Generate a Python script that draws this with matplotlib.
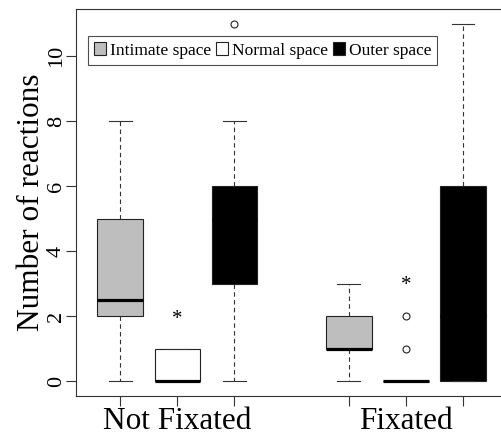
import matplotlib
matplotlib.use("Agg")
import matplotlib.pyplot as plt
import matplotlib.transforms as mtransforms
from matplotlib.patches import Patch

plt.rcParams['font.family'] = ['Liberation Serif', 'DejaVu Serif']

# Data
groups = ["Not Fixated", "Fixated"]
spaces = ["Intimate space", "Normal space", "Outer space"]
positions = [1, 2, 3, 5, 6, 7]
q1 = [2, 0, 3, 1, 0, 0]
med = [2.5, 0, 5, 1, 0, 2]
q3 = [5, 1, 6, 2, 0, 6]
whislo = [0, 0, 0, 0, 0, 0]
whishi = [8, 1, 8, 3, 0, 11]
fliers = [[], [], [11], [], [1, 2], []]
star_x = [2, 6]
star_y = [2.05, 3.1]
colors = ["#BEBEBE", "white", "black"]

stats = [dict(q1=a, med=m, q3=b, whislo=lo, whishi=hi, fliers=f)
         for a, m, b, lo, hi, f in zip(q1, med, q3, whislo, whishi, fliers)]

fig = plt.figure(figsize=(5.02, 4.37), dpi=100)
ax = fig.add_axes([0.1508, 0.0945, 0.8602, 0.8842])

bp = ax.bxp(stats, positions=positions, widths=0.8, patch_artist=True,
            boxprops=dict(edgecolor="#222222", linewidth=0.8),
            medianprops=dict(color="black", linewidth=2.3, solid_capstyle="butt"),
            whiskerprops=dict(color="#333333", linewidth=0.8, linestyle=(0, (4, 3))),
            capprops=dict(color="#333333", linewidth=0.8),
            capwidths=0.4,
            flierprops=dict(marker="o", markerfacecolor="white", markeredgecolor="#222222",
                            markersize=5, markeredgewidth=0.8))
for i, box in enumerate(bp["boxes"]):
    box.set_facecolor(colors[i % 3])

# significance stars (glyph sits high in its box, so nudge down)
star_trans = mtransforms.offset_copy(ax.transData, fig=fig, x=0, y=-3.6, units="points")
for x, y in zip(star_x, star_y):
    ax.text(x, y, "*", ha="center", va="center", fontsize=15, transform=star_trans)

ax.set_xlim(0.22, 7.78)
ax.set_ylim(-0.44, 11.44)
ax.set_xticks(positions)
ax.set_xticklabels(["", groups[0], "", "", groups[1], ""], fontsize=22.5)
ax.set_yticks([0, 2, 4, 6, 8, 10])
ax.set_yticklabels(["0", "2", "4", "6", "8", "10"], fontsize=16, rotation=90, va="center")
ax.tick_params(direction="out", length=7, width=0.8, color="#333333")
ax.tick_params(axis="y", pad=0)
ax.tick_params(axis="x", pad=1.3)
for s in ax.spines.values():
    s.set_linewidth(0.8)
    s.set_color("#333333")
ax.set_ylabel("Number of reactions", fontsize=22.5, labelpad=0.5)

handles = [Patch(facecolor=c, edgecolor="#222222", linewidth=0.8) for c in colors]
leg = ax.legend(handles, spaces, ncol=3, loc="upper left", bbox_to_anchor=(0.029, 0.930),
                borderaxespad=0, fontsize=12.5, frameon=True, fancybox=False,
                handlelength=0.7, handleheight=0.7, handletextpad=0.2, columnspacing=0.3,
                borderpad=0.35)
leg.get_frame().set_edgecolor("#222222")
leg.get_frame().set_linewidth(0.8)

fig.savefig("out.png", dpi=100)
